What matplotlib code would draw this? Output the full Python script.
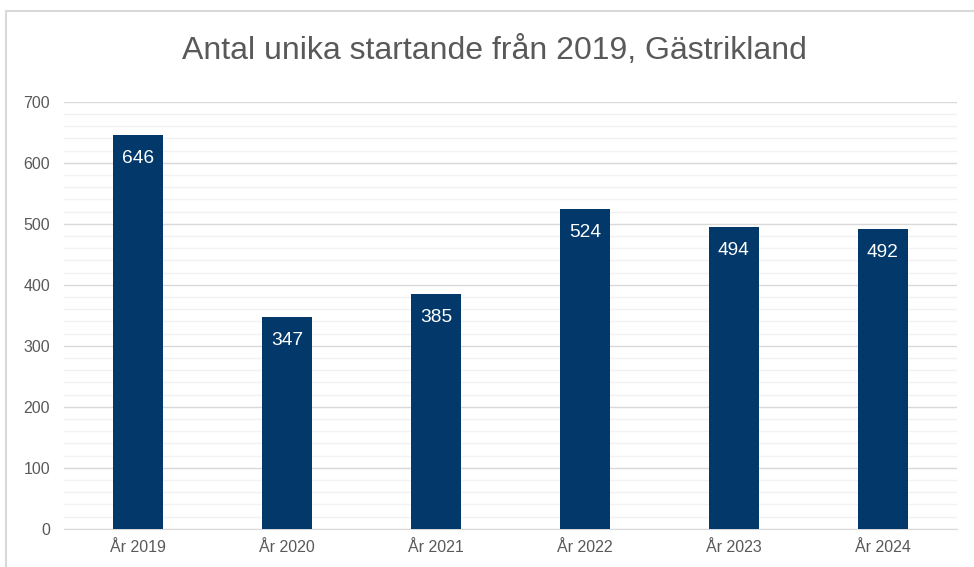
import matplotlib.pyplot as plt
from matplotlib.patches import Rectangle
from matplotlib.ticker import MultipleLocator

plt.rcParams['font.family'] = ['Liberation Sans', 'DejaVu Sans']

years = ["År 2019", "År 2020", "År 2021", "År 2022", "År 2023", "År 2024"]
values = [646, 347, 385, 524, 494, 492]

bar_color = "#02386A"
text_color = "#595959"

fig = plt.figure(figsize=(9.74, 5.67), dpi=100)
ax = fig.add_axes([0.0657, 0.0675, 0.9168, 0.7531])

x = range(len(years))
bars = ax.bar(x, values, width=0.336, color=bar_color, zorder=3)

for b, v in zip(bars, values):
    ax.annotate(str(v), (b.get_x() + b.get_width() / 2, v),
                xytext=(0, -17), textcoords="offset points",
                ha="center", va="center", color="white", fontsize=13.8, zorder=4)

ax.set_xlim(-0.5, len(years) - 0.5)
ax.set_ylim(0, 700)
ax.yaxis.set_major_locator(MultipleLocator(100))
ax.yaxis.set_minor_locator(MultipleLocator(20))
ax.grid(axis="y", which="minor", color="#f2f2f2", linewidth=1, zorder=0)
ax.grid(axis="y", which="major", color="#d9d9d9", linewidth=1, zorder=1)

ax.set_xticks(list(x))
ax.set_xticklabels(years)
ax.tick_params(axis="both", which="both", length=0, labelsize=11.5, colors=text_color)
ax.tick_params(axis="y", pad=10)
ax.tick_params(axis="x", pad=8)

for s in ["top", "right", "left"]:
    ax.spines[s].set_visible(False)
ax.spines["bottom"].set_color("#d9d9d9")
ax.spines["bottom"].set_zorder(2)

fig.text(0.508, 0.91, "Antal unika startande från 2019, Gästrikland",
         ha="center", va="center", fontsize=23, color=text_color)

border = Rectangle((6 / 974, -0.05), 1.0, 1.05 - 11 / 567,
                   transform=fig.transFigure, fill=False,
                   edgecolor="#d9d9d9", linewidth=1.5)
fig.patches.append(border)

fig.savefig("out.png", dpi=100)
